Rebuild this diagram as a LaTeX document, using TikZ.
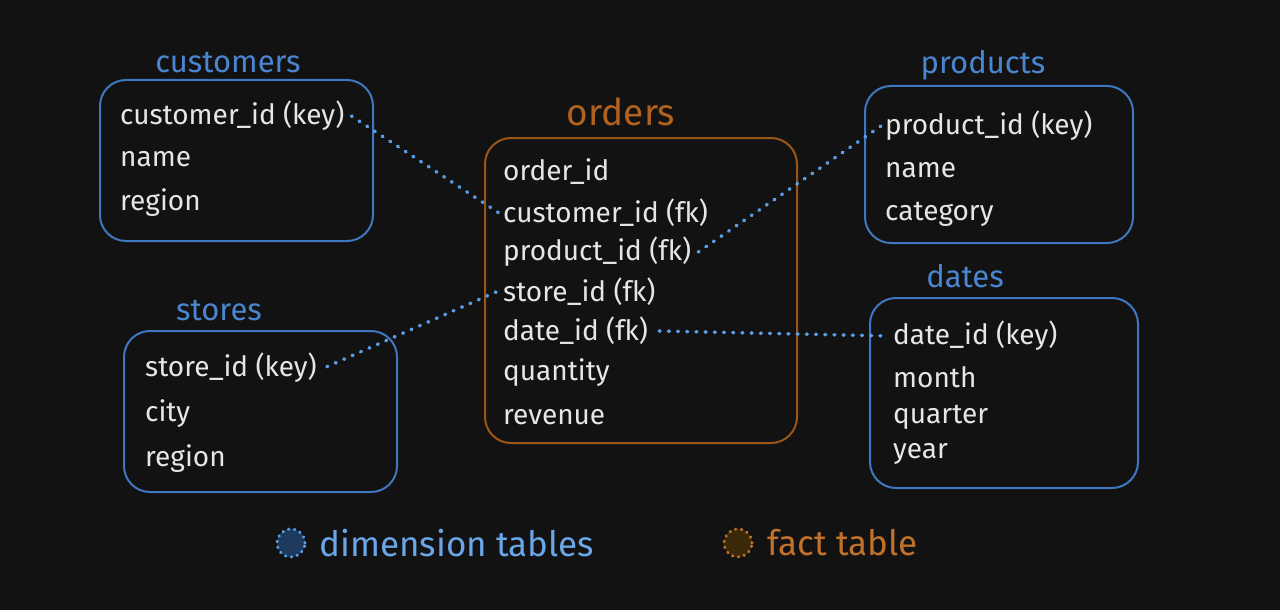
\documentclass[tikz,border=0pt]{standalone}
\usepackage{fontspec}
\setmainfont{Fira Sans}
\definecolor{bgc}{HTML}{121212}
\definecolor{dimline}{HTML}{3F78C0}
\definecolor{dimtext}{HTML}{4A86D0}
\definecolor{dimdot}{HTML}{5A9EE6}
\definecolor{dimleg}{HTML}{6AA6E8}
\definecolor{dimfill}{HTML}{1E3A5F}
\definecolor{factline}{HTML}{9A5618}
\definecolor{facttext}{HTML}{B0621E}
\definecolor{factleg}{HTML}{C0722A}
\definecolor{factfill}{HTML}{3A2A0A}
\definecolor{rowtext}{HTML}{E6E6E6}
\tikzset{
  dimbox/.style={draw=dimline, line width=2pt, rounded corners=26pt, inner sep=0pt},
  factbox/.style={draw=factline, line width=2pt, rounded corners=26pt, inner sep=0pt},
  row/.style={anchor=west, inner sep=1pt, yshift=-2pt, text=rowtext, font=\fontsize{28}{32}\selectfont},
  dimtitle/.style={text=dimtext, font=\fontsize{31}{36}\selectfont},
  facttitle/.style={text=facttext, font=\fontsize{37}{42}\selectfont},
  legtext/.style={anchor=west, font=\fontsize{35}{40}\selectfont},
  legdot/.style={circle, minimum size=28pt, inner sep=0pt, line width=3pt, dash pattern=on 0.5pt off 5.5pt, line cap=round},
  link/.style={draw=dimdot, line width=3.6pt, line cap=round, dash pattern=on 0.8pt off 8.4pt}
}
\begin{document}
\begin{tikzpicture}[x=1pt, y=-1pt]
                            % Background and frame:
                            \fill[bgc] (0,0) rectangle (1280,610);
                            \useasboundingbox (0,0) rectangle (1280,610);
                            % Tables:
                            \node[dimbox, minimum width=273pt, minimum height=161pt] (customers) at (236.5,160.5){};
                            \node[dimbox, minimum width=273pt, minimum height=161pt] (stores) at (260.5,411.5){};
                            \node[factbox, minimum width=312pt, minimum height=305pt] (orders) at (641,290.5){};
                            \node[dimbox, minimum width=268pt, minimum height=157pt] (products) at (999,164.5){};
                            \node[dimbox, minimum width=268pt, minimum height=190pt] (dates) at (1004,393){};
                            % Titles:
                            \node[dimtitle] (tcust) at (228,63){customers};
                            \node[dimtitle] (tstore) at (219,310){stores};
                            \node[facttitle] (torder) at (621,112){orders};
                            \node[dimtitle] (tprod) at (983,65){products};
                            \node[dimtitle] (tdate) at (965,276){dates};
                            % Rows:
                            \node[row] (ckey) at (119,114){customer\_id (key)};
                            \node[row] (cname) at (119,157){name};
                            \node[row] (creg) at (119,201){region};
                            \node[row] (skey) at (144,366){store\_id (key)};
                            \node[row] (scity) at (144,412){city};
                            \node[row] (sreg) at (144,457){region};
                            \node[row] (oid) at (502,170){order\_id};
                            \node[row] (ocust) at (502,211){customer\_id (fk)};
                            \node[row] (oprod) at (502,250){product\_id (fk)};
                            \node[row] (ostore) at (502,290){store\_id (fk)};
                            \node[row] (odate) at (502,329){date\_id (fk)};
                            \node[row] (oqty) at (502,371){quantity};
                            \node[row] (orev) at (502,415){revenue};
                            \node[row] (pkey) at (884,124){product\_id (key)};
                            \node[row] (pname) at (884,168){name};
                            \node[row] (pcat) at (884,212){category};
                            \node[row] (dkey) at (892,334){date\_id (key)};
                            \node[row] (dmon) at (892,375){month};
                            \node[row] (dqtr) at (892,415){quarter};
                            \node[row] (dyear) at (892,452){year};
                            % Links:
                            \draw[link] ([xshift=6pt]ckey.east) -- ([xshift=-3pt]ocust.west);
                            \draw[link] ([xshift=6pt]oprod.east) -- ([xshift=-3pt]pkey.west);
                            \draw[link] ([xshift=-6pt]ostore.west) -- ([xshift=6pt]skey.east);
                            \draw[link] ([xshift=10pt]odate.east) -- ([xshift=-3pt]dkey.west);
                            % Legend:
                            \node[legdot, fill=dimfill, draw=dimdot] (ldim) at (291,543){};
                            \node[legtext, text=dimleg] (tdim) at (316,543){dimension tables};
                            \node[legdot, fill=factfill, draw=factleg] (lfact) at (738,543){};
                            \node[legtext, text=factleg] (tfact) at (764,543){fact table};
                        \end{tikzpicture}
\end{document}
